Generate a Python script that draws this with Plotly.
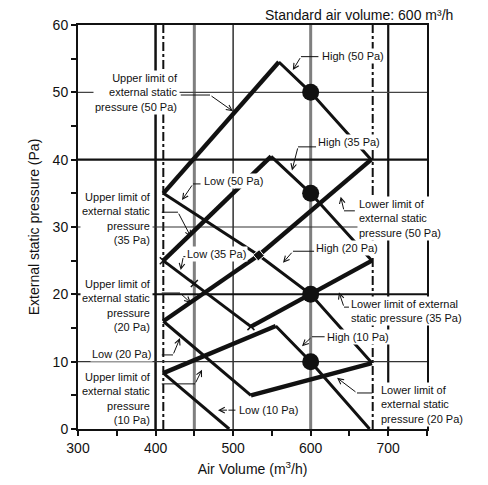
import plotly.graph_objects as go

# ---------------- data (air volume m3/h, static pressure Pa) ----------------
upper50_x = [410, 559]; upper50_y = [35, 54.5]
high50_x = [559, 600, 678]; high50_y = [54.5, 50, 40]
low50_x = [410, 533]; low50_y = [35, 25.8]
lower50_x = [533, 678]; lower50_y = [25.8, 40]

upper35_x = [410, 549]; upper35_y = [25, 40.5]
high35_x = [549, 600, 679]; high35_y = [40.5, 35, 25]
low35_x = [410, 523]; low35_y = [25, 15.2]
lower35_x = [523, 679]; lower35_y = [15.2, 25]

upper20_x = [410, 533]; upper20_y = [16, 25.8]
high20_x = [533, 600, 679]; high20_y = [25.8, 20, 9.8]
low20_x = [410, 523]; low20_y = [16, 5]
lower20_x = [523, 679]; lower20_y = [5, 9.8]

upper10_x = [410, 555]; upper10_y = [8.3, 15.3]
high10_x = [555, 600, 676]; high10_y = [15.3, 10, 0]
low10_x = [410, 495]; low10_y = [8.3, 0]

std_x = [600, 600, 600, 600]; std_y = [50, 35, 20, 10]
cross_x = [410, 523, 450]; cross_y = [25, 15.2, 21.6]
join_x = [533]; join_y = [25.8]

x_ticks = [300, 350, 400, 450, 500, 550, 600, 650, 700, 750]
x_labels = ["300", "", "400", "", "500", "", "600", "", "700", ""]
y_ticks = [0, 5, 10, 15, 20, 25, 30, 35, 40, 45, 50, 55, 60]
y_labels = ["0", "", "10", "", "20", "", "30", "", "40", "", "50", "", "60"]

FONT = "Arial, Liberation Sans, sans-serif"
INK = "#111111"

fig = go.Figure()

thick = [(upper50_x, upper50_y), (lower50_x, lower50_y), (upper35_x, upper35_y), (lower35_x, lower35_y),
         (upper20_x, upper20_y), (lower20_x, lower20_y), (upper10_x, upper10_y)]
thin = [(high50_x, high50_y), (low50_x, low50_y), (high35_x, high35_y), (low35_x, low35_y),
        (high20_x, high20_y), (low20_x, low20_y), (high10_x, high10_y), (low10_x, low10_y)]
for xs, ys in thick:
    fig.add_trace(go.Scatter(x=xs, y=ys, mode="lines", line=dict(color=INK, width=4.4),
                             hoverinfo="skip", showlegend=False))
for xs, ys in thin:
    fig.add_trace(go.Scatter(x=xs, y=ys, mode="lines", line=dict(color=INK, width=3),
                             hoverinfo="skip", showlegend=False))

fig.add_trace(go.Scatter(x=cross_x, y=cross_y, mode="markers",
                         marker=dict(symbol="x-thin", size=7, line=dict(color=INK, width=1.5)),
                         hoverinfo="skip", showlegend=False))
fig.add_trace(go.Scatter(x=join_x, y=join_y, mode="markers",
                         marker=dict(symbol="square", size=8, angle=-40, color=INK,
                                     line=dict(color="white", width=1)),
                         hoverinfo="skip", showlegend=False))
fig.add_trace(go.Scatter(x=std_x, y=std_y, mode="markers",
                         marker=dict(size=17, color=INK), hoverinfo="skip", showlegend=False))

# reference lines
shapes = []
def vline(x, color, width, dash="solid"):
    shapes.append(dict(type="line", xref="x", yref="y", x0=x, x1=x, y0=0, y1=60, layer="below",
                       line=dict(color=color, width=width, dash=dash)))
def hline(y, color, width):
    shapes.append(dict(type="line", xref="x", yref="y", x0=300, x1=750, y0=y, y1=y, layer="below",
                       line=dict(color=color, width=width)))
vline(400, INK, 2.5)
vline(410, INK, 2, "dashdot")
vline(450, "#7f7f7f", 3)
vline(500, INK, 1.3)
vline(600, "#7f7f7f", 3)
vline(680, INK, 2, "dashdot")
vline(700, INK, 2.2)
hline(10, "#333333", 1.2)
hline(20, INK, 2)
hline(30, "#333333", 1.2)
hline(40, INK, 2.2)
hline(50, "#444444", 1.2)

annotations = []
def label(text, x, y, anchor, align):
    annotations.append(dict(text=text, x=x, y=y, xref="x", yref="y", xanchor=anchor, yanchor="middle",
                            align=align, showarrow=False, bgcolor="white", borderpad=1,
                            font=dict(family=FONT, size=11, color=INK)))
def leader(pts, tip):
    path = "M " + " L ".join(f"{px},{py}" for px, py in pts)
    shapes.append(dict(type="path", xref="x", yref="y", path=path, layer="above",
                       line=dict(color=INK, width=1)))
    ex, ey = pts[-1]
    annotations.append(dict(text="", x=tip[0], y=tip[1], ax=ex, ay=ey, xref="x", yref="y",
                            axref="x", ayref="y", showarrow=True, arrowhead=5, arrowsize=1.1,
                            arrowwidth=1, arrowcolor=INK))

label("High (50 Pa)", 612, 55.4, "left", "left")
leader([(610, 55.3), (587.5, 55.3)], (577, 53.3))
label("High (35 Pa)", 607, 42.6, "left", "left")
leader([(607, 41.9), (583.7, 41.9)], (575.9, 38.4))
label("High (20 Pa)", 604.5, 26.9, "left", "left")
leader([(604.5, 26.4), (577.2, 26.4)], (564.3, 24.7))
label("High (10 Pa)", 619, 13.7, "left", "left")
leader([(618, 13.7), (601.7, 13.7)], (588.8, 12.3))
label("Upper limit of<br>external static<br>pressure (50 Pa)", 431.5, 50.05, "right", "right")
leader([(432.5, 49.6), (470.2, 49.6)], (499.8, 47.2))
label("Upper limit of<br>external static<br>pressure<br>(35 Pa)", 396.7, 31.3, "right", "right")
leader([(408, 32.2), (428.9, 32.2)], (445.7, 28.5))
label("Low (50 Pa)", 459.5, 36.8, "left", "left")
leader([(458, 36.4), (448.3, 36.4)], (434.1, 34.0))
label("Low (35 Pa)", 438.5, 26.0, "left", "left")
leader([(439, 25.6), (435.8, 25.6)], (432.4, 23.6))
label("Upper limit of<br>external static<br>pressure<br>(20 Pa)", 396.7, 18.3, "right", "right")
leader([(408, 20.2), (431.5, 20.2)], (445.7, 18.7))
label("Low (20 Pa)", 396.7, 11.1, "right", "right")
leader([(408, 11.0), (422.5, 11.0)], (431.5, 13.5))
label("Upper limit of<br>external static<br>pressure<br>(10 Pa)", 396.7, 4.46, "right", "right")
leader([(408, 6.7), (450.9, 6.7)], (459.9, 8.8))
label("Low (10 Pa)", 504.5, 2.8, "left", "left")
leader([(503, 2.8), (494, 2.8)], (480.5, 2.8))
label("Lower limit of<br>external static<br>pressure (50 Pa)", 659.5, 31.3, "left", "left")
leader([(657, 32.4), (643, 32.4)], (638.7, 34.5))
label("Lower limit of external<br>static pressure (35 Pa)", 649.4, 17.5, "left", "left")
leader([(649.4, 18.1), (643, 18.1)], (636.5, 20.3))
label("Lower limit of<br>external static<br>pressure (20 Pa)", 688, 3.6, "left", "left")
leader([(679.5, 5.35), (659.7, 5.35)], (634, 7.6))

annotations.append(dict(text="Standard air volume: 600 m³/h", xref="paper", yref="paper",
                        x=1.077, y=1.0, xanchor="right", yanchor="bottom", yshift=1,
                        borderpad=0, showarrow=False,
                        font=dict(family=FONT, size=14, color=INK)))

fig.update_layout(
    width=472, height=469,
    margin=dict(l=70, r=53, t=17, b=48, autoexpand=False),
    paper_bgcolor="white", plot_bgcolor="white",
    font=dict(family=FONT, size=14, color=INK),
    shapes=shapes, annotations=annotations,
    showlegend=False,
)
fig.update_xaxes(range=[300, 750], showgrid=False, zeroline=False, showline=True, linecolor=INK,
                 linewidth=2, mirror=True, ticks="outside", ticklen=5, tickwidth=1.5, tickcolor=INK,
                 tickvals=x_ticks, ticktext=x_labels, tickfont=dict(size=14), automargin=False,
                 title=dict(text="Air Volume (m<sup>3</sup>/h)", font=dict(size=14), standoff=13))
fig.update_yaxes(range=[0, 60], showgrid=False, zeroline=False, showline=True, linecolor=INK,
                 linewidth=2, mirror=True, ticks="outside", ticklen=5, tickwidth=1.5, tickcolor=INK,
                 tickvals=y_ticks, ticktext=y_labels, tickfont=dict(size=14), automargin=False,
                 title=dict(text="External static pressure (Pa)", font=dict(size=14), standoff=10))

fig.write_html("out.html")
